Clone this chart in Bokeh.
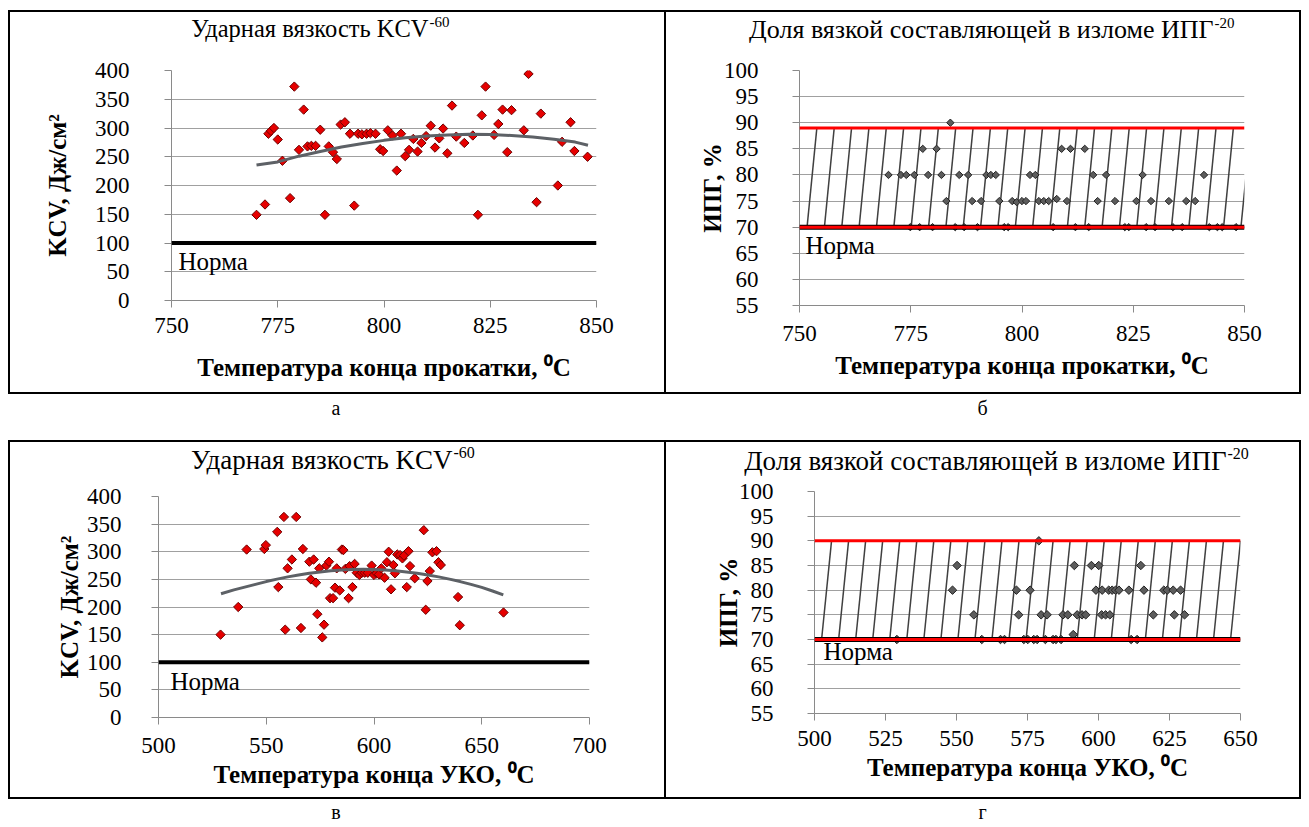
import numpy as np
from bokeh.plotting import figure
from bokeh.models import Label, SingleIntervalTicker, Range1d, Div, Spacer, Span
from bokeh.layouts import row, column
from bokeh.embed import file_html
from bokeh.resources import INLINE

# ---------------- data ----------------
a_x = [770.0, 772.0, 772.8, 773.4, 774.1, 775.0, 776.1, 777.9, 778.9, 780.0, 781.1, 782.0, 782.9,
       783.9, 785.0, 786.1, 787.0, 788.0, 788.9, 789.8, 790.8, 792.0, 793.0, 793.9, 794.8, 795.9,
       796.8, 798.0, 799.1, 799.8, 800.9, 802.0, 803.0, 804.0, 805.0, 805.9, 806.9, 807.9, 808.8,
       809.9, 811.0, 812.0, 813.0, 813.9, 814.9, 816.0, 817.0, 818.9, 820.9, 822.1, 823.0, 823.9,
       825.9, 826.9, 827.9, 829.0, 830.0, 832.9, 834.0, 835.9, 836.9, 840.9, 841.9, 843.9, 844.8,
       847.9]
a_y = [149, 167, 290, 295, 300, 280, 243, 178, 372, 262, 332, 268, 269, 269, 297, 149, 268, 258,
       246, 306, 310, 290, 165, 290, 289, 290, 291, 290, 263, 260, 296, 287, 226, 290, 251, 262,
       281, 259, 274, 286, 304, 266, 282, 299, 256, 339, 285, 274, 287, 149, 322, 372, 288, 307,
       332, 258, 331, 296, 394, 171, 325, 200, 276, 310, 260, 250]
a_trend_x = [770, 775, 780, 785, 790, 795, 800, 805, 810, 815, 820, 825, 830, 835, 840, 845, 848]
a_trend_y = [235.5, 241, 251, 259, 267, 273, 278.5, 283, 286, 288, 289, 288.5, 287, 284.5, 280.5,
             275.5, 270]
a_norm = 100

b_x = [783.9,
       777.7, 780.8, 808.9, 810.9, 814.1,
       770.0, 772.8, 774.0, 775.8, 778.9, 781.9, 785.9, 787.9, 792.0, 793.0, 794.1, 801.8, 803.0,
       816.0, 818.9, 827.1, 840.9,
       783.0, 788.8, 790.8, 794.9, 797.8, 798.8, 800.0, 800.9, 803.8, 804.9, 806.0, 807.8, 810.1,
       817.0, 820.9, 825.7, 829.0, 833.0, 836.9, 838.9,
       774.9, 777.0, 779.9, 785.0, 787.0, 790.0, 796.0, 796.9, 807.0, 812.0, 815.0, 823.1, 824.0,
       827.9, 829.9, 833.9, 836.0, 842.1, 843.9, 845.0, 848.1]
b_y = [90,
       85, 85, 85, 85, 85,
       80, 80, 80, 80, 80, 80, 80, 80, 80, 80, 80, 80, 80, 80, 80, 80, 80,
       75, 75, 75, 75, 75, 74.8, 75, 75, 75, 75, 75, 75.4, 75, 75, 75, 75, 75, 75, 75, 75,
       70, 70, 70, 70, 70, 70, 70, 70, 70, 70, 70, 70, 70, 70, 70, 70, 70, 70, 70, 70, 70]
b_band = [70, 89]
b_norm = 70

c_x = [528.8, 537.0, 540.9, 549.1, 549.8, 555.1, 555.6, 558.2, 558.8, 559.9, 561.9, 563.9, 566.1,
       567.0, 570.0, 570.7, 572.0, 573.1, 573.7, 574.6, 576.0, 576.8, 577.9, 579.1, 579.6, 581.0,
       581.9, 582.7, 584.1, 585.1, 585.8, 586.7, 588.2, 588.7, 590.0, 591.0, 592.0, 593.2, 594.4,
       595.7, 597.1, 598.9, 600.0, 601.2, 602.3, 603.4, 604.9, 606.0, 606.8, 607.9, 609.0, 609.7,
       610.8, 612.1, 613.2, 613.9, 615.2, 616.0, 616.7, 618.9, 623.1, 624.0, 624.8, 625.9, 627.1,
       629.0, 629.9, 631.0, 639.0, 639.8, 660.1]
c_y = [150, 200, 304, 305, 312, 336, 236, 363, 159, 270, 286, 363, 162, 305, 282, 250, 286, 244,
       187, 270, 145, 168, 275, 282, 216, 216, 235, 270, 230, 304, 303, 269, 216, 274, 236, 278,
       262, 258, 262, 262, 262, 275, 258, 261, 259, 270, 253, 281, 300, 232, 276, 261, 295, 294,
       288, 293, 236, 301, 274, 252, 339, 195, 247, 265, 299, 301, 281, 276, 218, 167, 190]
c_trend_x = [529, 535, 540, 545, 550, 555, 560, 565, 570, 575, 580, 585, 590, 595, 600, 605, 610,
             615, 620, 625, 630, 635, 640, 645, 650, 655, 660]
c_trend_y = [224, 231, 236, 241, 246, 250.5, 254.5, 258, 261, 263.5, 265.5, 267, 268, 268.2, 268,
             267, 265.5, 263.5, 261, 258, 254.5, 250.5, 246, 241, 235.5, 229, 222]
c_norm = 100

d_x = [579.0,
       550.2, 591.5, 597.5, 600.1, 614.9,
       548.6, 571.1, 575.9, 599.1, 601.3, 603.6, 604.8, 606.0, 607.2, 610.7, 616.0, 623.0, 624.2,
       626.3, 628.9,
       556.1, 571.9, 579.8, 581.9, 587.5, 589.2, 592.5, 594.2, 595.5, 601.1, 602.5, 604.0, 619.3,
       626.7, 630.3,
       529.0, 558.9, 565.5, 566.9, 573.7, 575.1, 577.2, 578.4, 581.3, 584.0, 585.0, 586.8, 591.1,
       611.5, 613.6]
d_y = [90,
       85, 85, 85, 85, 85,
       80, 80, 80, 80, 80, 80, 80, 80, 80, 80, 80, 80, 80, 80, 80,
       75, 75, 75, 75, 75, 75, 75, 75, 75, 75, 75, 75, 75, 75, 75,
       70, 70, 70, 70, 70, 70, 70, 70, 70, 70, 70, 70, 71, 70, 70]
d_band = [70, 90]
d_norm = 70

title_kcv = "Ударная вязкость KCV"
title_ipg = "Доля вязкой составляющей в изломе ИПГ"
sup_kcv = "-60"
sup_ipg = "-20"
xlab_roll = "Температура конца прокатки, ⁰C"
xlab_uko = "Температура конца УКО, ⁰C"
ylab_kcv = "KCV, Дж/см²"
ylab_ipg = "ИПГ, %"
norm_text = "Норма"
panel_letters = ["а", "б", "в", "г"]

# ---------------- styling ----------------
SERIF = "Liberation Serif"
GRID = "#a0a0a0"
AXIS = "#8a8a8a"


def make_fig(w, h, left, right, top, bottom, xr, yr, xstep, ystep, fs, lab_fs,
             xlab, ylab, ystand, xstand, ylabstand, xlabstand):
    p = figure(width=w, height=h, x_range=Range1d(*xr), y_range=Range1d(*yr),
               output_backend="svg", toolbar_location=None, frame_align=False,
               min_border_left=left, min_border_right=right,
               min_border_top=top, min_border_bottom=bottom,
               outline_line_color=None, background_fill_color="white",
               border_fill_color="white")
    p.xaxis.ticker = SingleIntervalTicker(interval=xstep, num_minor_ticks=0)
    p.yaxis.ticker = SingleIntervalTicker(interval=ystep, num_minor_ticks=0)
    for ax in (p.xaxis, p.yaxis):
        ax.axis_line_color = AXIS
        ax.major_tick_line_color = AXIS
        ax.major_tick_out = 7
        ax.major_tick_in = 0
        ax.minor_tick_line_color = None
        ax.major_label_text_font = SERIF
        ax.major_label_text_font_size = fs
        ax.major_label_text_color = "black"
        ax.axis_label_text_font = SERIF
        ax.axis_label_text_font_style = "bold"
        ax.axis_label_text_font_size = lab_fs
        ax.axis_label_text_color = "black"
    p.xaxis.axis_label = xlab
    p.yaxis.axis_label = ylab
    p.yaxis.major_label_standoff = ystand
    p.xaxis.major_label_standoff = xstand
    p.yaxis.axis_label_standoff = ylabstand
    p.xaxis.axis_label_standoff = xlabstand
    p.xgrid.grid_line_color = None
    p.ygrid.grid_line_color = GRID
    p.ygrid.grid_line_width = 1
    return p


def add_title(p, main, sup, x, y, fs, sfs):
    # canvas-unit labels; the main one sits in the top panel, the superscript in the
    # right panel (where there is free room) so neither pushes the plot frame
    p.add_layout(Label(x=x, y=y, x_units="canvas", y_units="canvas", text=main,
                       text_align="right", text_baseline="alphabetic",
                       text_font=SERIF, text_font_size=fs, text_color="black"), "above")
    p.add_layout(Label(x=x + 1, y=y - 7, x_units="canvas", y_units="canvas", text=sup,
                       text_align="left", text_baseline="alphabetic",
                       text_font=SERIF, text_font_size=sfs, text_color="black"), "right")


def add_norm_label(p, x, y, xo, yo, fs):
    p.add_layout(Label(x=x, y=y, x_offset=xo, y_offset=yo, text=norm_text,
                       text_baseline="top", text_align="left",
                       text_font=SERIF, text_font_size=fs, text_color="black"))


def add_hatch(p, x_lo, x_hi, band, step, lean):
    starts = np.arange(x_lo - lean - step, x_hi + step, step)
    p.segment(x0=starts, y0=[band[0]] * len(starts), x1=starts + lean,
              y1=[band[1]] * len(starts), line_color="#404040", line_width=1.5)


def red_diamonds(p, x, y, size):
    p.scatter(x, y, marker="square", angle=np.pi / 4, size=size,
              fill_color="#e60000", line_color="#6e0000", line_width=1)


def grey_diamonds(p, x, y, size):
    p.scatter(x, y, marker="square", angle=np.pi / 4, size=size,
              fill_color="#5c5c5c", line_color="#222222", line_width=1)


TICK_FS = "23px"
LAB_FS = "25px"
NORM_FS = "25px"

# (а)
fa = make_fig(654, 380, 161, 68, 58, 92, (750, 850), (0, 400), 25, 50, TICK_FS, LAB_FS,
              xlab_roll, ylab_kcv, 35, 10, 21, 18)
red_diamonds(fa, a_x, a_y, 6.6)
fa.line(a_trend_x, a_trend_y, line_color="#5d6166", line_width=3)
fa.add_layout(Span(location=a_norm, dimension="width", line_color="black", line_width=4))
add_norm_label(fa, 750, a_norm, 7, -5, NORM_FS)
add_title(fa, title_kcv, sup_kcv, 418, 16, "24.5px", "15px")

# (б)
fb = make_fig(633, 380, 133, 55, 58, 87, (750, 850), (55, 100), 25, 5, TICK_FS, LAB_FS,
              xlab_roll, ylab_ipg, 34, 13, -5, 8)
add_hatch(fb, 750, 850, b_band, 3.9, 2.2)
grey_diamonds(fb, b_x, b_y, 5.2)
fb.add_layout(Span(location=b_norm, dimension="width", line_color="black", line_width=5))
for v in b_band:
    fb.add_layout(Span(location=v, dimension="width", line_color="#ff0000", line_width=3))
add_norm_label(fb, 750, b_norm, 6, -5, NORM_FS)
add_title(fb, title_ipg, sup_ipg, 547, 17, "26px", "15px")

# (в)
fc = make_fig(654, 355, 148, 75, 54, 80, (500, 700), (0, 400), 50, 50, TICK_FS, LAB_FS,
              xlab_uko, ylab_kcv, 30, 13, 1, 5)
red_diamonds(fc, c_x, c_y, 6.6)
fc.line(c_trend_x, c_trend_y, line_color="#5d6166", line_width=3)
fc.add_layout(Span(location=c_norm, dimension="width", line_color="black", line_width=4))
add_norm_label(fc, 500, c_norm, 12, -6, NORM_FS)
add_title(fc, title_kcv, sup_kcv, 442, 17, "27px", "16px")

# (г)
fd = make_fig(633, 355, 148, 59, 49, 84, (500, 650), (55, 100), 25, 5, TICK_FS, LAB_FS,
              xlab_uko, ylab_ipg, 34, 10, -6, 5)
add_hatch(fd, 500, 650, d_band, 6.0, 3.5)
grey_diamonds(fd, d_x, d_y, 6)
fd.add_layout(Span(location=d_norm, dimension="width", line_color="black", line_width=5))
for v in d_band:
    fd.add_layout(Span(location=v, dimension="width", line_color="#ff0000", line_width=3))
add_norm_label(fd, 500, d_norm, 9, 2, NORM_FS)
add_title(fd, title_ipg, sup_ipg, 560, 18, "27px", "16px")


def hline(w):
    return Div(text="", width=w, height=2, margin=0, styles={"background-color": "black"})


def vline(h):
    return Div(text="", width=2, height=h, margin=0, styles={"background-color": "black"})


def letter(t, w, h, lh):
    return Div(text=t, width=w, height=h, margin=0,
               styles={"font-family": SERIF, "font-size": "20px", "text-align": "center",
                       "line-height": lh, "color": "black"})


top_box = column(hline(1293), row(vline(380), fa, vline(380), fb, vline(380)), hline(1293))
bot_box = column(hline(1293), row(vline(355), fc, vline(355), fd, vline(355)), hline(1293))
labels1 = row(letter(panel_letters[0], 656, 46, "28px"), letter(panel_letters[1], 637, 46, "28px"))
labels2 = row(letter(panel_letters[2], 656, 24, "26px"), letter(panel_letters[3], 637, 24, "26px"))

body = column(top_box, labels1, bot_box, labels2)
page = column(Spacer(width=10, height=10), row(Spacer(width=8, height=10), body))

open("out.html", "w").write(file_html(page, INLINE))
